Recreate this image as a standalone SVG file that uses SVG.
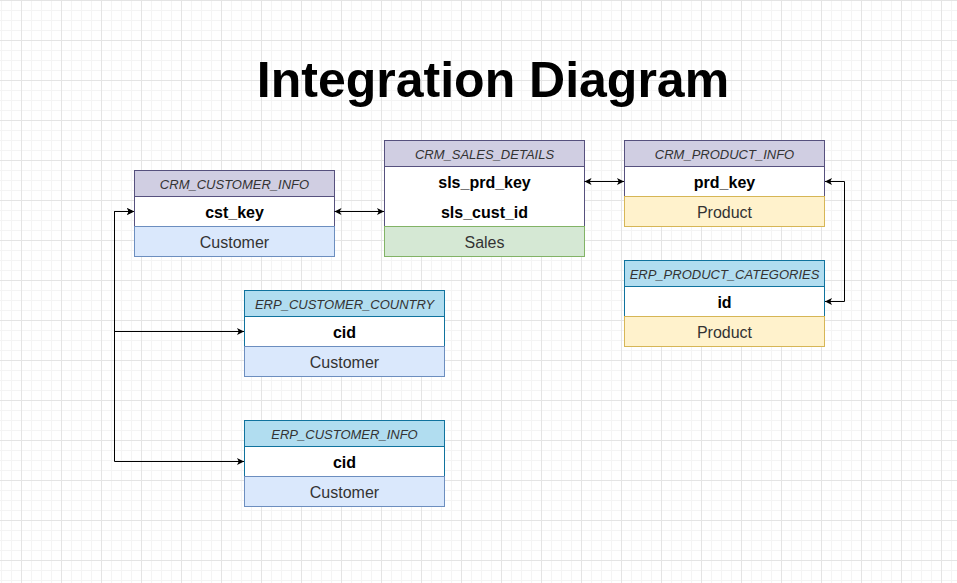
<svg xmlns="http://www.w3.org/2000/svg" width="957" height="583" viewBox="0 0 957 583">
<defs>
  <pattern id="grid" patternUnits="userSpaceOnUse" x="21" y="0" width="40" height="40">
    <rect x="0" y="0" width="40" height="40" fill="#ffffff"/>
    <rect x="10" y="0" width="1" height="40" fill="#f4f4f4"/>
    <rect x="20" y="0" width="1" height="40" fill="#f4f4f4"/>
    <rect x="30" y="0" width="1" height="40" fill="#f4f4f4"/>
    <rect x="0" y="10" width="40" height="1" fill="#f4f4f4"/>
    <rect x="0" y="20" width="40" height="1" fill="#f4f4f4"/>
    <rect x="0" y="30" width="40" height="1" fill="#f4f4f4"/>
    <rect x="0" y="0" width="1" height="40" fill="#e4e4e4"/>
    <rect x="0" y="0" width="40" height="1" fill="#e4e4e4"/>
  </pattern>
  <marker id="arr" markerUnits="userSpaceOnUse" markerWidth="8" markerHeight="8" viewBox="0 0 8 8" refX="7" refY="3.5" orient="auto-start-reverse">
    <path d="M0,0 L7,3.5 L0,7 L1.75,3.5 Z" fill="#000000"/>
  </marker>
</defs>
<style>
  text { font-family: "Liberation Sans", Arial, Helvetica, sans-serif; text-anchor: middle; dominant-baseline: central; }
  .title { font-size: 50px; font-weight: bold; fill: #000000; dominant-baseline: alphabetic; }
  .hdr { font-size: 13px; font-style: italic; fill: #333333; }
  .key { font-size: 16px; font-weight: bold; fill: #000000; }
  .cat { font-size: 16px; fill: #333333; }
  .hp { fill: #d0cee2; stroke: #56517e; }
  .bp { fill: #ffffff; stroke: #56517e; }
  .hb { fill: #b1ddf0; stroke: #10739e; }
  .bb { fill: #ffffff; stroke: #10739e; }
  .cust { fill: #dae8fc; stroke: #6c8ebf; }
  .sales { fill: #d5e8d4; stroke: #82b366; }
  .prod { fill: #fff2cc; stroke: #d6b656; }
  .edge { fill: none; stroke: #000000; stroke-width: 1; marker-start: url(#arr); marker-end: url(#arr); }
</style>
<rect x="0" y="0" width="957" height="583" fill="url(#grid)"/>

<text class="title" x="493" y="97">Integration Diagram</text>

<g id="crm_customer_info">
  <rect class="bp" x="134.5" y="196.5" width="200" height="30"/>
  <rect class="hp" x="134.5" y="170.5" width="200" height="26"/>
  <rect class="cust" x="134.5" y="226.5" width="200" height="30"/>
  <text class="hdr" x="234.5" y="184">CRM_CUSTOMER_INFO</text>
  <text class="key" x="234.5" y="212">cst_key</text>
  <text class="cat" x="234.5" y="242">Customer</text>
</g>

<g id="crm_sales_details">
  <rect class="bp" x="384.5" y="166.5" width="200" height="60"/>
  <rect class="hp" x="384.5" y="140.5" width="200" height="26"/>
  <rect class="sales" x="384.5" y="226.5" width="200" height="30"/>
  <text class="hdr" x="484.5" y="154">CRM_SALES_DETAILS</text>
  <text class="key" x="484.5" y="182">sls_prd_key</text>
  <text class="key" x="484.5" y="212">sls_cust_id</text>
  <text class="cat" x="484.5" y="242">Sales</text>
</g>

<g id="crm_product_info">
  <rect class="bp" x="624.5" y="166.5" width="200" height="30"/>
  <rect class="hp" x="624.5" y="140.5" width="200" height="26"/>
  <rect class="prod" x="624.5" y="196.5" width="200" height="30"/>
  <text class="hdr" x="724.5" y="154">CRM_PRODUCT_INFO</text>
  <text class="key" x="724.5" y="182">prd_key</text>
  <text class="cat" x="724.5" y="212">Product</text>
</g>

<g id="erp_product_categories">
  <rect class="bb" x="624.5" y="286.5" width="200" height="30"/>
  <rect class="hb" x="624.5" y="260.5" width="200" height="26"/>
  <rect class="prod" x="624.5" y="316.5" width="200" height="30"/>
  <text class="hdr" x="724.5" y="274">ERP_PRODUCT_CATEGORIES</text>
  <text class="key" x="724.5" y="302">id</text>
  <text class="cat" x="724.5" y="332">Product</text>
</g>

<g id="erp_customer_country">
  <rect class="bb" x="244.5" y="316.5" width="200" height="30"/>
  <rect class="hb" x="244.5" y="290.5" width="200" height="26"/>
  <rect class="cust" x="244.5" y="346.5" width="200" height="30"/>
  <text class="hdr" x="344.5" y="304">ERP_CUSTOMER_COUNTRY</text>
  <text class="key" x="344.5" y="332">cid</text>
  <text class="cat" x="344.5" y="362">Customer</text>
</g>

<g id="erp_customer_info">
  <rect class="bb" x="244.5" y="446.5" width="200" height="30"/>
  <rect class="hb" x="244.5" y="420.5" width="200" height="26"/>
  <rect class="cust" x="244.5" y="476.5" width="200" height="30"/>
  <text class="hdr" x="344.5" y="434">ERP_CUSTOMER_INFO</text>
  <text class="key" x="344.5" y="462">cid</text>
  <text class="cat" x="344.5" y="492">Customer</text>
</g>

<g id="connectors">
  <path class="edge" d="M334.5,211.5 H384"/>
  <path class="edge" d="M584.5,181.5 H624"/>
  <path class="edge" d="M825,181.5 H844.5 V301.5 H825"/>
  <path class="edge" d="M134,211.5 H114.5 V331.5 H244"/>
  <path class="edge" d="M134,211.5 H114.5 V461.5 H244"/>
</g>
</svg>
